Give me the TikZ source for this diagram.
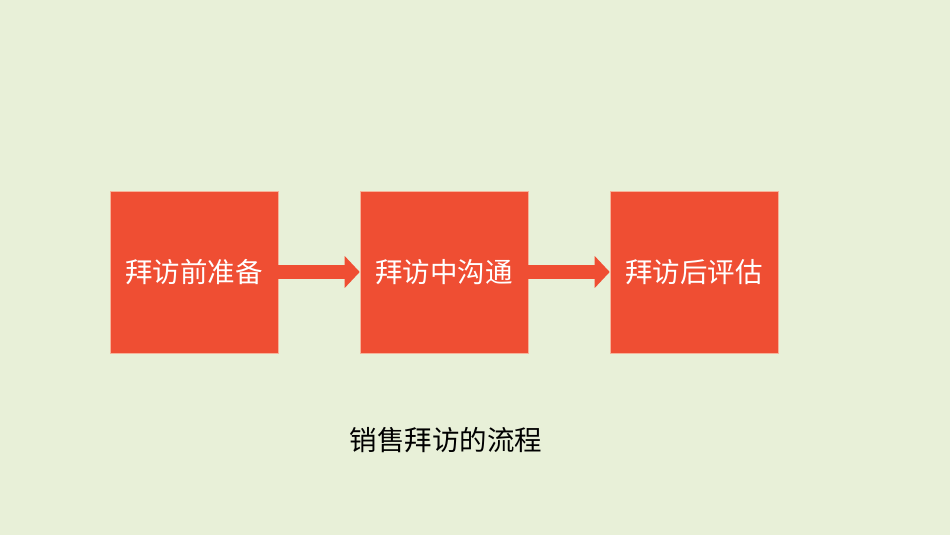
\documentclass[tikz,border=0pt]{standalone}
\usepackage{fontspec}
\setmainfont{Noto Sans CJK SC}
\usepackage{tikz}
\usetikzlibrary{arrows.meta}
\definecolor{BgGreen}{HTML}{E8F0D8}
\definecolor{StepRed}{HTML}{EF4E33}
\definecolor{EdgePeach}{HTML}{F6B39A}

\begin{document}
\begin{tikzpicture}[x=0.75pt, y=-0.75pt]
\tikzset{
  stepbox/.style={draw=EdgePeach, line width=0.4pt, fill=StepRed, inner sep=0pt,
    minimum width=168*0.75pt, minimum height=162*0.75pt, text=white,
    font=\fontsize{20.6pt}{24pt}\selectfont},
  flow/.style={draw=StepRed, line width=14*0.75pt,
    -{Triangle[length=15*0.75pt, width=31*0.75pt]}}
}
\fill[BgGreen] (0,0) rectangle (950,535);
\useasboundingbox (0,0) rectangle (950,535);

\node[stepbox] (prep) at (194,272) {\raisebox{-2pt}{拜访前准备}};
\node[stepbox] (talk) at (444,272) {\raisebox{-2pt}{拜访中沟通}};
\node[stepbox] (eval) at (694,272) {\raisebox{-2pt}{拜访后评估}};

\draw[flow] (prep.east) -- (talk.west);
\draw[flow] (talk.east) -- (eval.west);

\node[font=\fontsize{20.6pt}{24pt}\selectfont] (title) at (446,440) {销售拜访的流程};

\end{tikzpicture}
\end{document}
